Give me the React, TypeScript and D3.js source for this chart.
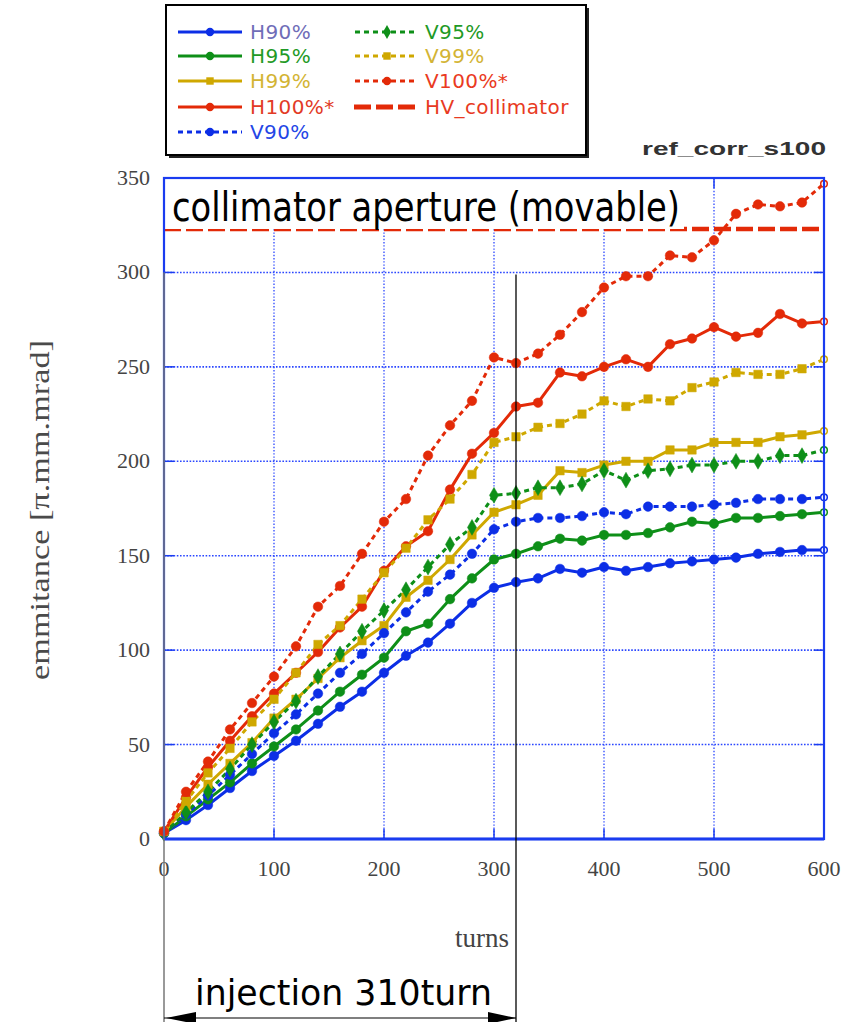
import React from "react";
import * as d3 from "d3";

// turns sampled every 20 turns
const turns = [0, 20, 40, 60, 80, 100, 120, 140, 160, 180, 200, 220, 240, 260, 280, 300, 320, 340, 360, 380, 400, 420, 440, 460, 480, 500, 520, 540, 560, 580, 600];

const h90 = [3, 10, 18, 27, 36, 44, 52, 61, 70, 78, 88, 97, 104, 114, 125, 133, 136, 138, 143, 141, 144, 142, 144, 146, 147, 148, 149, 151, 152, 153, 153];
const h95 = [3, 12, 21, 30, 40, 49, 58, 68, 78, 87, 96, 110, 114, 127, 138, 148, 151, 155, 159, 158, 161, 161, 162, 165, 168, 167, 170, 170, 171, 172, 173];
const h99 = [4, 17, 29, 40, 51, 64, 74, 85, 96, 105, 113, 128, 137, 148, 161, 173, 177, 182, 195, 194, 198, 200, 200, 206, 206, 210, 210, 210, 213, 214, 216];
const h100 = [4, 22, 38, 52, 65, 77, 88, 99, 112, 123, 142, 155, 163, 185, 204, 215, 229, 231, 247, 245, 250, 254, 250, 262, 265, 271, 266, 268, 278, 273, 274];
const v90 = [3, 13, 23, 34, 45, 56, 66, 77, 88, 98, 109, 120, 131, 140, 151, 164, 168, 170, 170, 171, 173, 172, 176, 176, 176, 177, 178, 180, 180, 180, 181];
const v95 = [3, 14, 25, 37, 50, 62, 73, 86, 98, 110, 121, 132, 144, 156, 165, 182, 183, 186, 186, 188, 195, 190, 195, 196, 198, 198, 200, 200, 203, 203, 206];
const v99 = [4, 20, 35, 48, 62, 74, 88, 103, 113, 127, 141, 154, 169, 180, 193, 210, 213, 218, 220, 225, 232, 229, 233, 232, 239, 242, 247, 246, 246, 249, 254];
const v100 = [4, 25, 41, 58, 72, 86, 102, 123, 134, 151, 168, 180, 203, 219, 232, 255, 252, 257, 267, 279, 292, 298, 298, 309, 308, 317, 331, 336, 335, 337, 347];

const collimatorAperture = 323;
const injectionTurns = 320;

const xTicks = [0, 100, 200, 300, 400, 500, 600];
const yTicks = [0, 50, 100, 150, 200, 250, 300, 350];

const BLUE = "#0c2ee6";
const GREEN = "#0e8f18";
const GOLD = "#cfa800";
const RED = "#e32a08";

type Series = { name: string; values: number[]; color: string; dashed: boolean; labelColor: string; symbol: d3.SymbolType };

const series: Series[] = [
  { name: "H90%", values: h90, color: BLUE, dashed: false, labelColor: "#6f6db8", symbol: d3.symbolCircle },
  { name: "H95%", values: h95, color: GREEN, dashed: false, labelColor: "#1f9a26", symbol: d3.symbolCircle },
  { name: "H99%", values: h99, color: GOLD, dashed: false, labelColor: "#d3b434", symbol: d3.symbolSquare },
  { name: "H100%*", values: h100, color: RED, dashed: false, labelColor: "#e23a26", symbol: d3.symbolCircle },
  { name: "V90%", values: v90, color: BLUE, dashed: true, labelColor: "#2446e6", symbol: d3.symbolCircle },
  { name: "V95%", values: v95, color: GREEN, dashed: true, labelColor: "#1f9a26", symbol: d3.symbolDiamond },
  { name: "V99%", values: v99, color: GOLD, dashed: true, labelColor: "#d3b434", symbol: d3.symbolSquare },
  { name: "V100%*", values: v100, color: RED, dashed: true, labelColor: "#ea3a22", symbol: d3.symbolCircle },
];

const W = 855;
const H = 1022;
const left = 164, right = 824, top = 178, bottom = 839;

export default function App() {
  const x = d3.scaleLinear().domain([0, 600]).range([left, right]);
  const y = d3.scaleLinear().domain([0, 350]).range([bottom, top]);
  const line = d3.line<number>().x((_, i) => x(turns[i])).y((v) => y(v));
  const sym = (s: d3.SymbolType, size: number) => d3.symbol().type(s).size(size)() as string;

  const axisBlue = "#1a3cf0";
  const gridBlue = "#2a46ff";
  const tickLen = 10;

  const legendRows1 = [0, 1, 2, 3, 4];
  const legendRowY = [32, 56, 81, 107, 132];
  const col2 = [5, 6, 7];

  const xInj = x(injectionTurns);

  return (
    <svg width={W} height={H} style={{ position: "absolute", left: 0, top: 0, background: "#fff" }} xmlns="http://www.w3.org/2000/svg">
      <rect x={0} y={0} width={W} height={H} fill="#fff" />

      {/* grid */}
      {xTicks.slice(1, -1).map((t) => (
        <line key={"gx" + t} x1={x(t)} x2={x(t)} y1={top} y2={bottom} stroke={gridBlue} strokeWidth={1.3} strokeDasharray="1.4,1.8" />
      ))}
      {yTicks.slice(1, -1).map((t) => (
        <line key={"gy" + t} x1={left} x2={right} y1={y(t)} y2={y(t)} stroke={gridBlue} strokeWidth={1.6} strokeDasharray="1.6,1.6" />
      ))}

      {/* ticks on all four sides */}
      {xTicks.map((t) => (
        <g key={"tx" + t}>
          <line x1={x(t)} x2={x(t)} y1={bottom} y2={bottom - tickLen} stroke={axisBlue} strokeWidth={1.5} />
          <line x1={x(t)} x2={x(t)} y1={top} y2={top + tickLen} stroke={axisBlue} strokeWidth={1.5} />
        </g>
      ))}
      {yTicks.map((t) => (
        <g key={"ty" + t}>
          <line x1={left} x2={left + tickLen} y1={y(t)} y2={y(t)} stroke={axisBlue} strokeWidth={1.5} />
          <line x1={right} x2={right - tickLen} y1={y(t)} y2={y(t)} stroke={axisBlue} strokeWidth={1.5} />
        </g>
      ))}

      {/* collimator aperture line */}
      <line x1={left} x2={right} y1={y(collimatorAperture)} y2={y(collimatorAperture)} stroke={RED} strokeWidth={4.5} strokeDasharray="17,5" />

      {/* series lines */}
      {series.map((s) => (
        <path key={s.name} d={line(s.values) as string} fill="none" stroke={s.color} strokeWidth={3} strokeDasharray={s.dashed ? "5,4" : undefined} strokeLinejoin="round" />
      ))}
      {series.map((s) => (
        <g key={s.name + "m"}>
          {s.values.map((v, i) => {
            const last = i === s.values.length - 1;
            return (
              <path
                key={i}
                transform={`translate(${x(turns[i])},${y(v)})`}
                d={sym(last ? d3.symbolCircle : s.symbol, last ? 34 : 72)}
                fill={last ? "#fff" : s.color}
                stroke={s.color}
                strokeWidth={last ? 1.5 : 0.5}
              />
            );
          })}
        </g>
      ))}

      {/* text box over the aperture line */}
      <rect x={left + 1} y={top + 1} width={683 - left} height={y(collimatorAperture) - top - 1} fill="#fff" />
      <text x={172} y={221} fontFamily="DejaVu Sans" fontSize={40} textLength={508} lengthAdjust="spacingAndGlyphs" fill="#000">
        collimator aperture (movable)
      </text>

      {/* frame */}
      <rect x={left} y={top} width={right - left} height={bottom - top} fill="none" stroke={axisBlue} strokeWidth={2.2} />
      <line x1={left} x2={right} y1={bottom} y2={bottom} stroke={axisBlue} strokeWidth={3.2} />

      {/* tick labels */}
      {xTicks.map((t) => (
        <text key={"lx" + t} x={x(t)} y={876} textAnchor="middle" fontFamily="Liberation Serif" fontSize={22} fill="#444">
          {t}
        </text>
      ))}
      {yTicks.map((t) => (
        <text key={"ly" + t} x={150} y={y(t) + 7} textAnchor="end" fontFamily="Liberation Serif" fontSize={22} fill="#444">
          {t}
        </text>
      ))}

      {/* axis titles */}
      <text x={482} y={947} textAnchor="middle" fontFamily="Liberation Serif" fontSize={27} fill="#444">turns</text>
      <text transform="translate(49,510) rotate(-90)" textAnchor="middle" fontFamily="Liberation Serif" fontSize={28} textLength={340} lengthAdjust="spacingAndGlyphs" fill="#4a4a4a">
        emmitance [π.mm.mrad]
      </text>

      {/* chart tag */}
      <text x={826} y={155} textAnchor="end" fontFamily="Liberation Sans" fontWeight="bold" fontSize={18} fill="#333" textLength={184} lengthAdjust="spacingAndGlyphs">
        ref_corr_s100
      </text>

      {/* injection span */}
      <line x1={left} x2={left} y1={y(300)} y2={H} stroke="#777" strokeWidth={1.5} />
      <line x1={xInj} x2={xInj} y1={y(300) + 2} y2={H} stroke="#000" strokeWidth={1.3} />
      <line x1={left} x2={xInj} y1={1018} y2={1018} stroke="#000" strokeWidth={1.2} />
      <path d={`M${left + 2},1018 L${left + 32},1012 L${left + 32},1024 Z`} fill="#000" />
      <path d={`M${xInj},1018 L${xInj - 28},1012 L${xInj - 28},1024 Z`} fill="#000" />
      <text x={195} y={1005} fontFamily="DejaVu Sans" fontSize={35} textLength={297} lengthAdjust="spacingAndGlyphs" fill="#000">
        injection 310turn
      </text>

      {/* legend */}
      <rect x={169} y={8} width={420} height={150} fill="#222" />
      <rect x={166} y={5} width={420} height={150} fill="#fff" stroke="#000" strokeWidth={2} />
      {legendRows1.map((si, r) => {
        const s = series[si];
        const ly = legendRowY[r];
        return (
          <g key={"lg" + si}>
            <line x1={178} x2={242} y1={ly} y2={ly} stroke={s.color} strokeWidth={3} strokeDasharray={s.dashed ? "5,4" : undefined} />
            <path transform={`translate(210,${ly})`} d={sym(s.symbol, 55)} fill={s.color} />
            <text x={250} y={ly + 7} fontFamily="DejaVu Sans" fontSize={20} letterSpacing={0.4} fill={s.labelColor}>{s.name}</text>
          </g>
        );
      })}
      {col2.map((si, r) => {
        const s = series[si];
        const ly = legendRowY[r];
        return (
          <g key={"lg" + si}>
            <line x1={355} x2={418} y1={ly} y2={ly} stroke={s.color} strokeWidth={3} strokeDasharray="5,4" />
            <path transform={`translate(387,${ly})`} d={sym(s.symbol, 55)} fill={s.color} />
            <text x={425} y={ly + 7} fontFamily="DejaVu Sans" fontSize={20} letterSpacing={0.4} fill={s.labelColor}>{s.name}</text>
          </g>
        );
      })}
      <line x1={354} x2={418} y1={legendRowY[3]} y2={legendRowY[3]} stroke={RED} strokeWidth={5} strokeDasharray="17,5" />
      <text x={425} y={legendRowY[3] + 7} fontFamily="DejaVu Sans" fontSize={20} letterSpacing={0.4} fill="#e83a22">HV_collimator</text>
    </svg>
  );
}
